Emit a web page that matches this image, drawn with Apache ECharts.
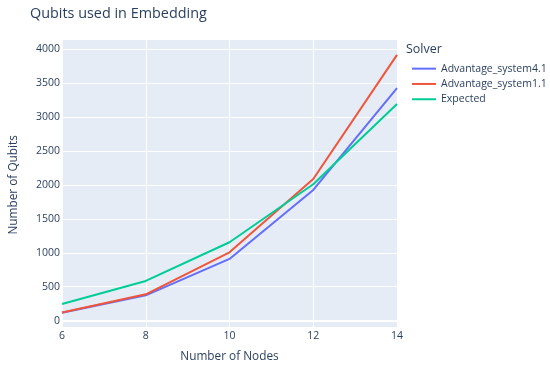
<!DOCTYPE html>
<html>
<head>
<meta charset="utf-8">
<script src="https://cdn.jsdelivr.net/npm/echarts@6/dist/echarts.min.js"></script>
<style>html,body{margin:0;padding:0;background:#fff}#c{width:550px;height:368px}</style>
</head>
<body>
<div id="c"></div>
<script>
const nodes = [6, 8, 10, 12, 14];
const seriesNames = ['Advantage_system4.1', 'Advantage_system1.1', 'Expected'];
const adv41 = [118, 374, 909, 1925, 3423];
const adv11 = [120, 389, 1007, 2087, 3913];
const expected = [246, 585, 1155, 2009, 3191];
const colors = ['#636efa', '#EF553B', '#00cc96'];
const yTicks = [0, 500, 1000, 1500, 2000, 2500, 3000, 3500, 4000];
const xTicks = [6, 8, 10, 12, 14];

const font = 'Open Sans, Verdana, Arial, sans-serif';
const txt = '#2a3f5f';
const values = [adv41, adv11, expected];

const chart = echarts.init(document.getElementById('c'), null, {renderer: 'canvas'});
chart.setOption({
  animation: false,
  textStyle: {fontFamily: font, color: txt},
  title: {
    text: 'Qubits used in Embedding', left: 25, top: 2,
    textStyle: {fontFamily: font, fontSize: 14.4, fontWeight: 'normal', color: txt}
  },
  graphic: [{
    type: 'text', left: 406, top: 43,
    style: {text: 'Solver', fontFamily: font, fontSize: 12.5, fill: txt}
  }],
  legend: {
    orient: 'vertical', left: 407, top: 56,
    itemWidth: 24, itemHeight: 2, itemGap: 0, icon: 'rect',
    data: seriesNames,
    textStyle: {fontFamily: font, fontSize: 10.5, color: txt, lineHeight: 15.3}
  },
  grid: [
    {left: 62, right: 153, top: 40, bottom: 41, show: true, backgroundColor: '#E5ECF6', borderWidth: 0},
    {left: 62, right: 153, top: 49, bottom: 47.3}
  ],
  xAxis: [
    {
      type: 'value', gridIndex: 0, min: xTicks[0], max: xTicks[xTicks.length - 1], interval: 2,
      name: 'Number of Nodes', nameLocation: 'middle', nameGap: 24,
      nameTextStyle: {fontFamily: font, fontSize: 11.8, color: txt},
      axisLine: {show: false}, axisTick: {show: false},
      axisLabel: {fontFamily: font, fontSize: 10.5, color: txt, margin: 4},
      splitLine: {show: true, lineStyle: {color: '#ffffff', width: 1}}
    },
    {
      type: 'value', gridIndex: 1, min: xTicks[0], max: xTicks[xTicks.length - 1],
      axisLine: {show: true, onZero: true, lineStyle: {color: '#ffffff', width: 2}},
      axisTick: {show: false}, axisLabel: {show: false}, splitLine: {show: false}
    }
  ],
  yAxis: [
    {type: 'value', gridIndex: 0, min: 0, max: 1, show: false, splitLine: {show: false}},
    {
      type: 'value', gridIndex: 1, min: yTicks[0], max: yTicks[yTicks.length - 1], interval: 500,
      name: 'Number of Qubits', nameLocation: 'middle', nameGap: 42,
      nameTextStyle: {fontFamily: font, fontSize: 11.8, color: txt},
      axisLine: {show: false}, axisTick: {show: false},
      axisLabel: {fontFamily: font, fontSize: 10.5, color: txt, margin: 2, formatter: v => String(v)},
      splitLine: {show: true, lineStyle: {color: '#ffffff', width: 1}}
    }
  ],
  series: seriesNames.map((n, i) => ({
    name: n, type: 'line', xAxisIndex: 1, yAxisIndex: 1,
    symbol: 'none', smooth: false,
    lineStyle: {color: colors[i], width: 2},
    itemStyle: {color: colors[i]},
    data: nodes.map((x, j) => [x, values[i][j]])
  }))
});
</script>
</body>
</html>
